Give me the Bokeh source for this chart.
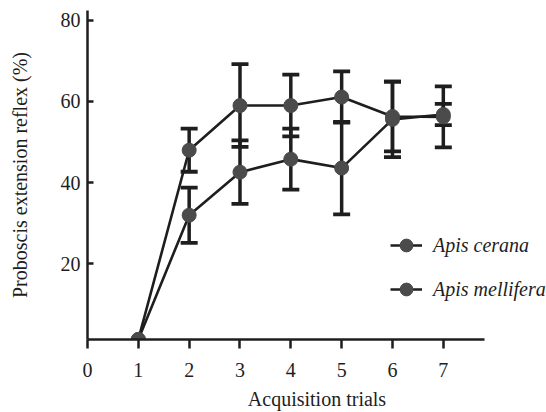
from bokeh.plotting import figure
from bokeh.models import Range1d, FixedTicker, Legend, LegendItem
from bokeh.embed import file_html
from bokeh.resources import INLINE

# ---- data ----
trials = [1, 2, 3, 4, 5, 6, 7]
cerana_mean = [1.4, 48.0, 59.0, 59.0, 61.1, 56.3, 56.2]
cerana_err = [0.0, 5.3, 10.2, 7.6, 6.3, 8.6, 7.5]
mellifera_mean = [1.4, 32.0, 42.6, 45.8, 43.6, 55.6, 56.8]
mellifera_err = [0.0, 6.8, 7.8, 7.5, 11.4, 9.3, 2.6]
x_ticks = [0, 1, 2, 3, 4, 5, 6, 7]
y_ticks = [20, 40, 60, 80]
series_names = ["Apis cerana", "Apis mellifera"]
x_label = "Acquisition trials"
y_label = "Proboscis extension reflex (%)"

FONT = "Liberation Serif"
INK = "#1e1e1e"
MARK = "#4b4b4b"

p = figure(width=546, height=412,
           x_range=Range1d(0, 9.03), y_range=Range1d(1.38, 82.41),
           min_border_left=87, min_border_right=0,
           min_border_top=10, min_border_bottom=68,
           output_backend="svg", toolbar_location=None)
p.outline_line_color = None
p.xgrid.visible = False
p.ygrid.visible = False
p.background_fill_color = "white"
p.border_fill_color = "white"

# axes
for ax in (p.xaxis[0], p.yaxis[0]):
    ax.axis_line_color = INK
    ax.axis_line_width = 2.5
    ax.major_tick_line_color = INK
    ax.major_tick_line_width = 2.5
    ax.minor_tick_line_color = None
    ax.major_label_text_font = FONT
    ax.major_label_text_font_size = "20px"
    ax.major_label_text_color = INK
    ax.axis_label_text_font = FONT
    ax.axis_label_text_font_size = "20px"
    ax.axis_label_text_font_style = "normal"
    ax.axis_label_text_color = INK

p.xaxis.ticker = FixedTicker(ticks=x_ticks)
p.yaxis.ticker = FixedTicker(ticks=y_ticks)
p.xaxis.bounds = (0, 7.81)
p.xaxis.major_tick_in = 0
p.xaxis.major_tick_out = 9
p.xaxis.major_label_standoff = 14
p.xaxis.axis_label = x_label
p.xaxis.axis_label_standoff = 8
p.yaxis.major_tick_in = 6
p.yaxis.major_tick_out = 0
p.yaxis.major_label_standoff = 7
p.yaxis.axis_label = y_label
p.yaxis.axis_label_standoff = 27

items = []
for name, mean, err in ((series_names[0], cerana_mean, cerana_err),
                        (series_names[1], mellifera_mean, mellifera_err)):
    xs = [t for t, e in zip(trials, err) if e > 0]
    lo = [m - e for m, e in zip(mean, err) if e > 0]
    hi = [m + e for m, e in zip(mean, err) if e > 0]
    p.segment(x0=xs, y0=lo, x1=xs, y1=hi, line_color=INK, line_width=3.5)
    p.scatter(x=xs, y=lo, marker="dash", size=17, line_color=INK, line_width=3.8)
    p.scatter(x=xs, y=hi, marker="dash", size=17, line_color=INK, line_width=3.8)
    items.append((name, mean))

legend_items = []
for name, mean in items:
    lr = p.line(x=trials, y=mean, line_color=INK, line_width=2.6)
    sr = p.scatter(x=trials, y=mean, marker="circle", size=14,
                   fill_color=MARK, line_color=MARK, line_width=1)
    legend_items.append(LegendItem(label=name, renderers=[lr, sr]))

legend = Legend(items=legend_items, location=(303, 34),
                glyph_width=32, glyph_height=32, spacing=12,
                label_standoff=11, padding=0, margin=0,
                border_line_color=None, background_fill_alpha=0,
                label_text_font=FONT, label_text_font_style="italic",
                label_text_font_size="20px", label_text_color=INK)
p.add_layout(legend)

open("out.html", "w").write(file_html(p, INLINE))
